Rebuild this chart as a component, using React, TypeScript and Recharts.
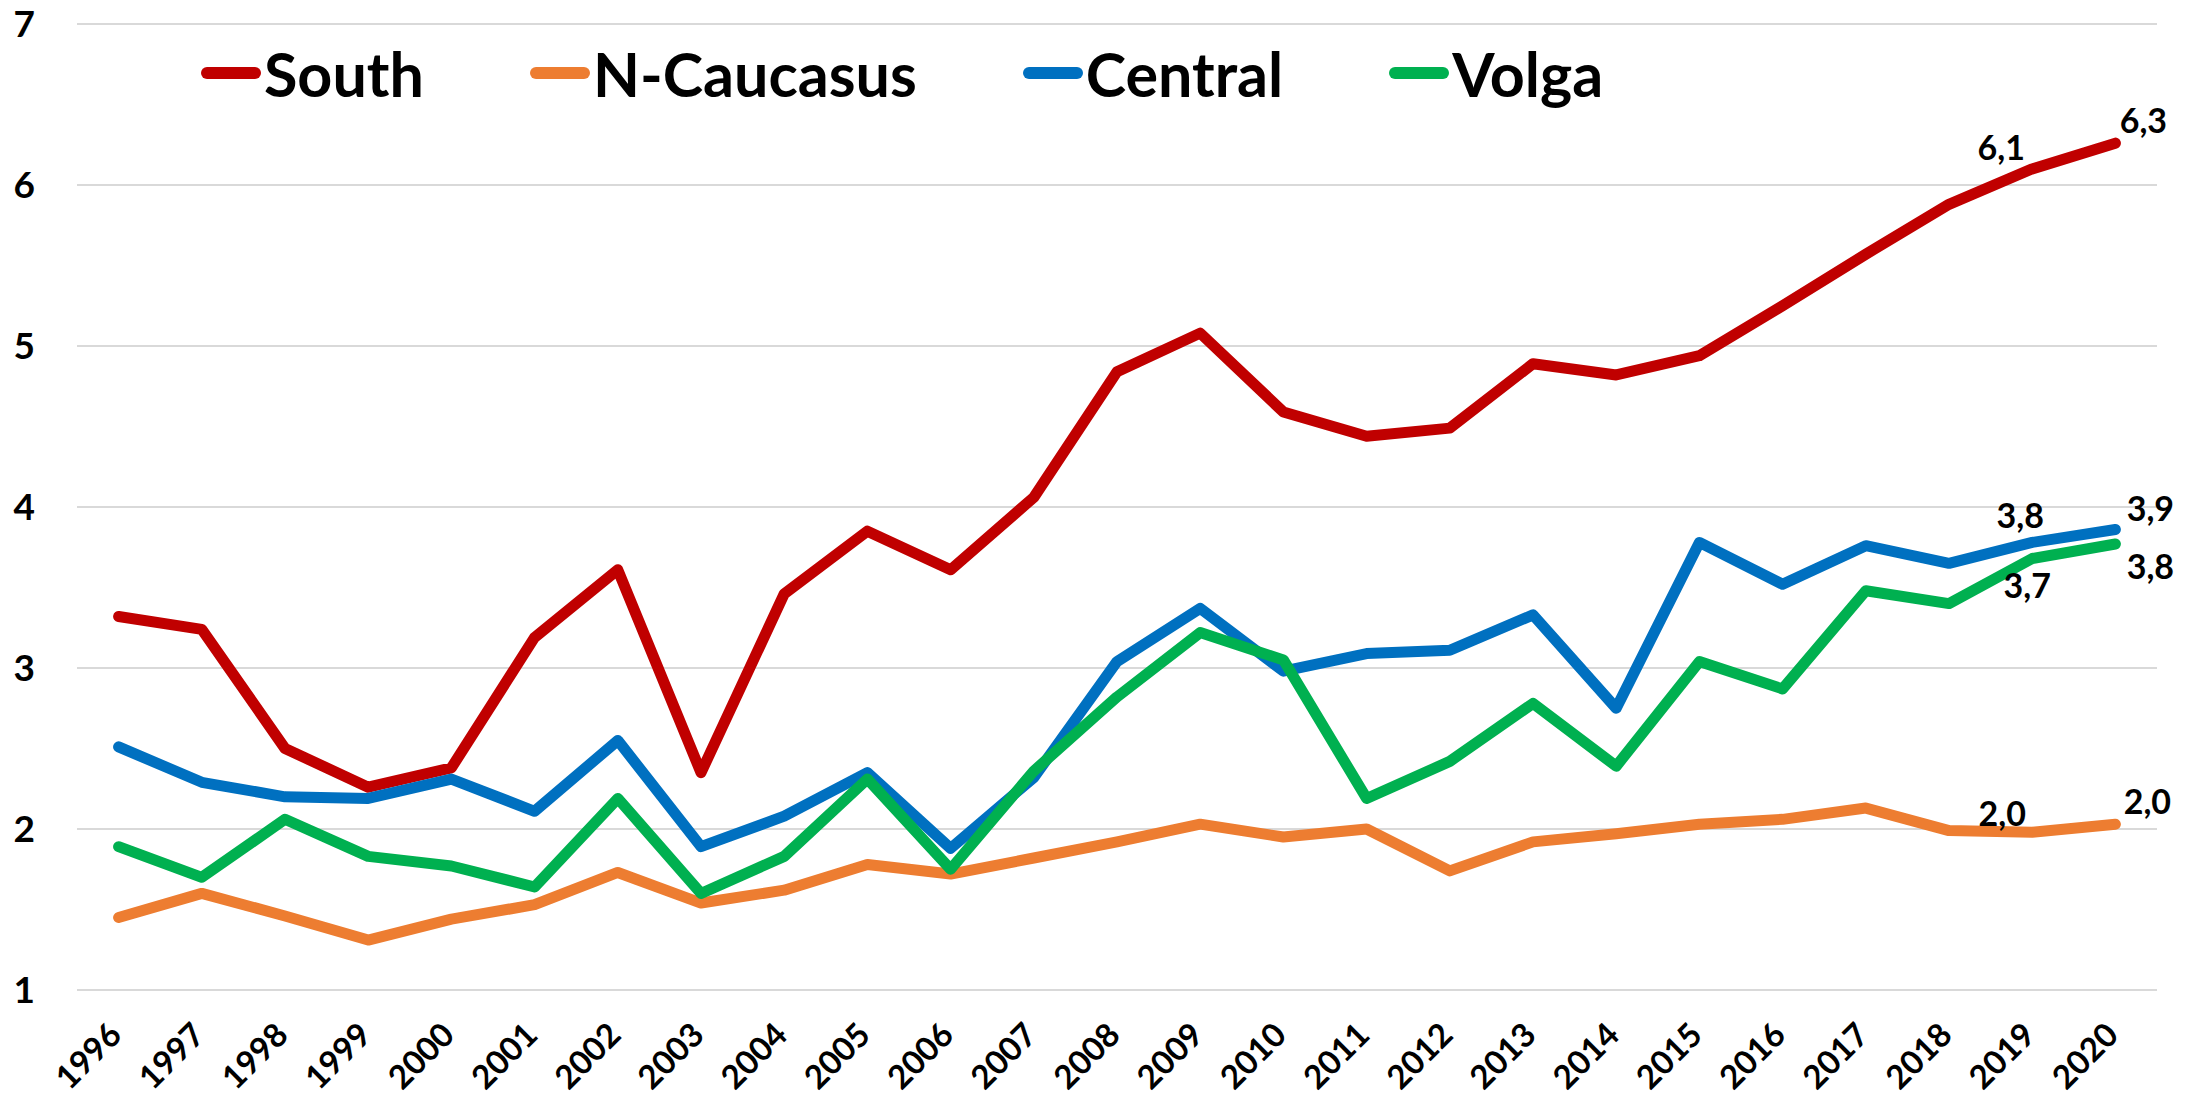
import React from 'react';
import { LineChart, Line, XAxis, YAxis, CartesianGrid, Legend, LabelList } from 'recharts';

const years = [
  '1996', '1997', '1998', '1999', '2000', '2001', '2002', '2003', '2004', '2005', '2006', '2007', '2008',
  '2009', '2010', '2011', '2012', '2013', '2014', '2015', '2016', '2017', '2018', '2019', '2020',
];

const south = [
  3.32, 3.24, 2.5, 2.26, 2.38, 3.19, 3.61, 2.35, 3.46, 3.85, 3.61, 4.06, 4.84,
  5.08, 4.59, 4.44, 4.49, 4.89, 4.82, 4.94, 5.25, 5.57, 5.88, 6.1, 6.26,
];
const nCaucasus = [
  1.45, 1.6, 1.46, 1.31, 1.44, 1.53, 1.73, 1.54, 1.62, 1.78, 1.72, 1.82, 1.92,
  2.03, 1.95, 2.0, 1.74, 1.92, 1.97, 2.03, 2.06, 2.13, 1.99, 1.98, 2.03,
];
const central = [
  2.51, 2.29, 2.2, 2.19, 2.31, 2.11, 2.55, 1.89, 2.08, 2.35, 1.88, 2.32, 3.04,
  3.37, 2.98, 3.09, 3.11, 3.33, 2.75, 3.78, 3.52, 3.76, 3.65, 3.78, 3.86,
];
const volga = [
  1.89, 1.7, 2.06, 1.83, 1.77, 1.64, 2.19, 1.6, 1.83, 2.31, 1.75, 2.36, 2.82,
  3.22, 3.05, 2.19, 2.42, 2.78, 2.39, 3.04, 2.87, 3.48, 3.4, 3.68, 3.77,
];

const yTicks = [1, 2, 3, 4, 5, 6, 7];

const data = years.map((year, i) => ({
  year,
  south: south[i],
  nCaucasus: nCaucasus[i],
  central: central[i],
  volga: volga[i],
}));

const FONT = "Lato, 'Liberation Sans', sans-serif";

// only the last two points get a value label, placed like the Excel original
const labelOffsets: Record<string, Record<number, [number, number]>> = {
  south: { 23: [-31, -22], 24: [28, -24] },
  nCaucasus: { 23: [-30, -20], 24: [32, -24] },
  central: { 23: [-12, -28], 24: [35, -22] },
  volga: { 23: [-5, 26], 24: [35, 21] },
};

const series = [
  { key: 'south', name: 'South', color: '#C00000' },
  { key: 'nCaucasus', name: 'N-Caucasus', color: '#ED7D31' },
  { key: 'central', name: 'Central', color: '#0070C0' },
  { key: 'volga', name: 'Volga', color: '#00B050' },
];

const makeLabel = (key: string) => (props: any) => {
  const { x, y, index, value } = props;
  const off = labelOffsets[key][index];
  if (!off) return null;
  return (
    <text
      x={x + off[0]}
      y={y + off[1]}
      textAnchor="middle"
      dominantBaseline="central"
      fontFamily={FONT}
      fontWeight="bold"
      fontSize={34}
      fill="#000"
    >
      {Number(value).toFixed(1).replace('.', ',')}
    </text>
  );
};

const XTick = (props: any) => {
  const { x, y, payload } = props;
  return (
    <text
      transform={`translate(${x + 5},${y + 47}) rotate(-45)`}
      textAnchor="end"
      fontFamily={FONT}
      fontWeight="bold"
      fontSize={33}
      fill="#000"
    >
      {payload.value}
    </text>
  );
};

const YTick = (props: any) => {
  const { y, payload } = props;
  return (
    <text x={35} y={y} dy="0.36em" textAnchor="end" fontFamily={FONT} fontWeight="bold" fontSize={37} fill="#000">
      {payload.value}
    </text>
  );
};

const LegendContent = () => (
  <div style={{ display: 'flex', alignItems: 'center', paddingLeft: 201, height: 146, gap: 106 }}>
    {series.map((s) => (
      <div key={s.key} style={{ display: 'flex', alignItems: 'center' }}>
        <div style={{ width: 60, height: 12, borderRadius: 6, background: s.color, marginRight: 3 }} />
        <span style={{ fontFamily: FONT, fontWeight: 'bold', fontSize: 61, lineHeight: 1, color: '#000' }}>
          {s.name}
        </span>
      </div>
    ))}
  </div>
);

const App: React.FC = () => {
  return (
    <div style={{ position: 'absolute', left: 0, top: 0, width: 2203, height: 1102, background: '#fff' }}>
      <LineChart width={2203} height={1102} data={data} margin={{ top: 24, right: 46, left: 0, bottom: 0 }}>
        <CartesianGrid vertical={false} stroke="#D9D9D9" strokeWidth={2} />
        <XAxis
          dataKey="year"
          axisLine={false}
          tickLine={false}
          tickSize={0}
          tickMargin={0}
          height={112}
          interval={0}
          padding={{ left: 41.6, right: 41.6 }}
          tick={<XTick />}
        />
        <YAxis
          domain={[1, 7]}
          ticks={yTicks}
          axisLine={false}
          tickLine={false}
          width={77}
          interval={0}
          tick={<YTick />}
        />
        <Legend
          layout="horizontal"
          verticalAlign="middle"
          align="center"
          content={<LegendContent />}
          wrapperStyle={{ position: 'absolute', top: 0, left: 0, width: 2203 }}
        />
        {series.map((s) => (
          <Line
            key={s.key}
            type="linear"
            dataKey={s.key}
            name={s.name}
            stroke={s.color}
            strokeWidth={11}
            strokeLinecap="round"
            strokeLinejoin="round"
            dot={false}
            activeDot={false}
            isAnimationActive={false}
          >
            <LabelList dataKey={s.key} content={makeLabel(s.key)} />
          </Line>
        ))}
      </LineChart>
    </div>
  );
};

export default App;
